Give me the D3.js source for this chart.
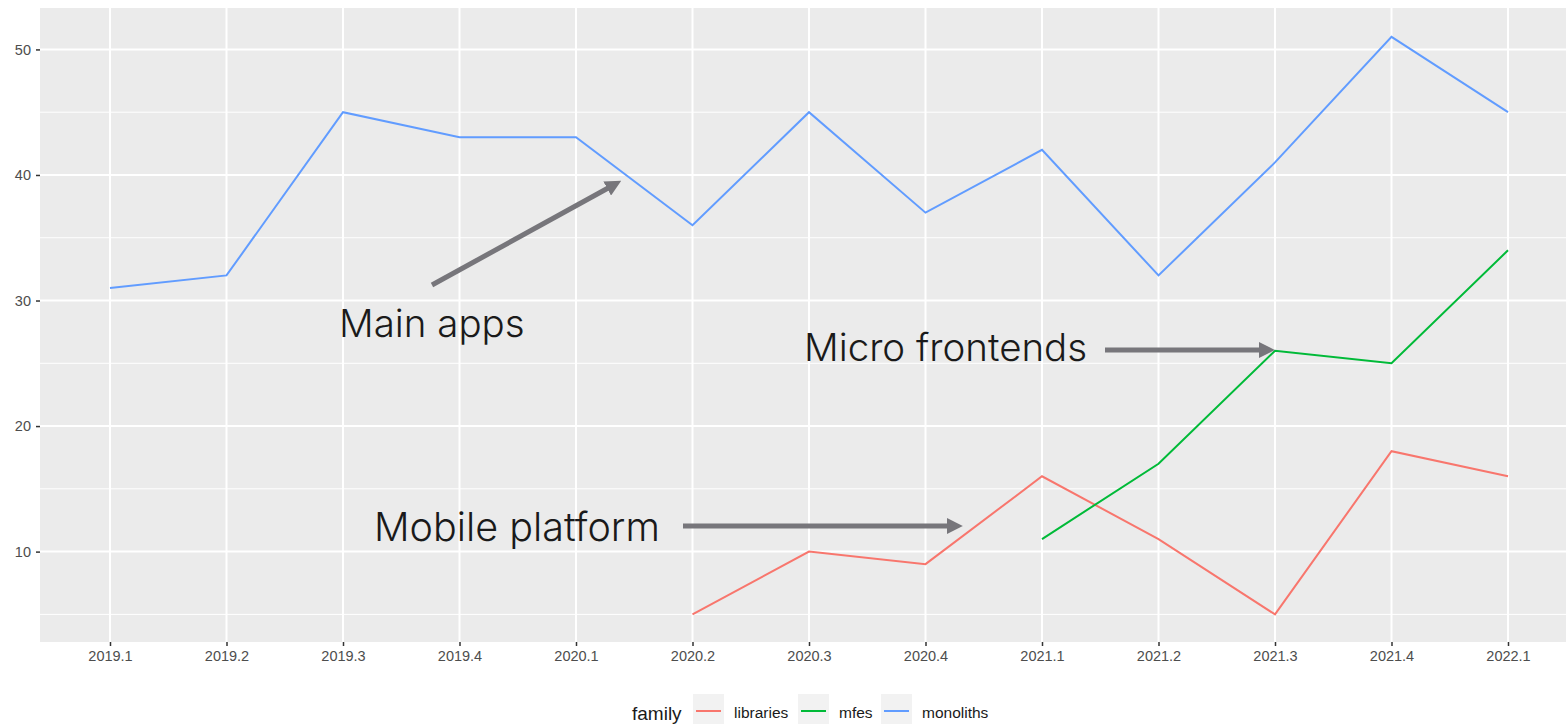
<!DOCTYPE html>
<html>
<head>
<meta charset="utf-8">
<script src="https://cdn.jsdelivr.net/npm/d3@7"></script>
<style>
  body { margin: 0; background: #fff; }
  svg { display: block; }
  text { font-family: "Liberation Sans", Arial, sans-serif; }
</style>
</head>
<body>
<div id="chart"></div>
<script>
// quarters on the x axis
var quarters = ["2019.1","2019.2","2019.3","2019.4","2020.1","2020.2","2020.3",
                "2020.4","2021.1","2021.2","2021.3","2021.4","2022.1"];

var monoliths = [31, 32, 45, 43, 43, 36, 45, 37, 42, 32, 41, 51, 45];
var libraries = [null, null, null, null, null, 5, 10, 9, 16, 11, 5, 18, 16];
var mfes      = [null, null, null, null, null, null, null, null, 11, 17, 26, 25, 34];

var yTicks = [10, 20, 30, 40, 50];
var yMinor = [5, 15, 25, 35, 45];

var seriesNames  = ["libraries", "mfes", "monoliths"];
var seriesColors = ["#F8766D", "#00BA38", "#619CFF"];

function init() {
    var w = 1566, h = 724;
    var left = 40, top = 8, right = 1566, bottom = 642;

    var svg = d3.select("#chart").append("svg")
        .attr("width", w).attr("height", h);

    var x = d3.scalePoint()
        .domain(quarters)
        .range([110, 1508]);

    var y = d3.scaleLinear()
        .domain([2.8, 53.3])
        .range([bottom, top]);

    // panel
    svg.append("rect")
        .attr("x", left).attr("y", top)
        .attr("width", right - left).attr("height", bottom - top)
        .attr("fill", "#EBEBEB");

    // minor grid
    svg.selectAll(".ymin").data(yMinor).enter().append("line")
        .attr("x1", left).attr("x2", right)
        .attr("y1", d => y(d)).attr("y2", d => y(d))
        .attr("stroke", "#fff").attr("stroke-width", 1);

    // major grid
    svg.selectAll(".ymaj").data(yTicks).enter().append("line")
        .attr("x1", left).attr("x2", right)
        .attr("y1", d => y(d)).attr("y2", d => y(d))
        .attr("stroke", "#fff").attr("stroke-width", 2);

    svg.selectAll(".xmaj").data(quarters).enter().append("line")
        .attr("x1", d => x(d)).attr("x2", d => x(d))
        .attr("y1", top).attr("y2", bottom)
        .attr("stroke", "#fff").attr("stroke-width", 2);

    // axes
    var xAxis = d3.axisBottom(x).tickSize(4).tickPadding(5);
    var yAxis = d3.axisLeft(y).tickValues(yTicks).tickSize(4).tickPadding(5);

    var gx = svg.append("g")
        .attr("transform", "translate(0," + bottom + ")")
        .call(xAxis);
    var gy = svg.append("g")
        .attr("transform", "translate(" + left + ",0)")
        .call(yAxis);

    [gx, gy].forEach(function(g) {
        g.select(".domain").remove();
        g.selectAll(".tick line").attr("stroke", "#333").attr("stroke-width", 1.5);
        g.selectAll(".tick text")
            .attr("fill", "#4D4D4D")
            .style("font-size", "14.5px")
            .style("font-family", "Liberation Sans, Arial, sans-serif");
    });

    // lines
    var line = d3.line()
        .defined(d => d != null)
        .x((d, i) => x(quarters[i]))
        .y(d => y(d));

    [libraries, mfes, monoliths].forEach(function(s, k) {
        svg.append("path")
            .datum(s)
            .attr("d", line)
            .attr("fill", "none")
            .attr("stroke", seriesColors[k])
            .attr("stroke-width", 2);
    });

    // arrows
    var defs = svg.append("defs");
    defs.append("marker")
        .attr("id", "head")
        .attr("viewBox", "0 0 10 10")
        .attr("refX", 2).attr("refY", 5)
        .attr("markerWidth", 3.2).attr("markerHeight", 3.2)
        .attr("orient", "auto")
        .attr("markerUnits", "strokeWidth")
        .append("path")
        .attr("d", "M0,0 L10,5 L0,10 Z")
        .attr("fill", "#77767B");

    var arrows = [
        [432, 285, 610, 187],
        [1105, 350, 1262, 350],
        [683, 526, 950, 526]
    ];
    svg.selectAll(".arrow").data(arrows).enter().append("line")
        .attr("x1", d => d[0]).attr("y1", d => d[1])
        .attr("x2", d => d[2]).attr("y2", d => d[3])
        .attr("stroke", "#77767B").attr("stroke-width", 5)
        .attr("marker-end", "url(#head)");

    var notes = [
        ["Main apps", 339, 337, 38.5],
        ["Micro frontends", 804, 361, 38.5],
        ["Mobile platform", 374, 541, 39.5]
    ];
    svg.selectAll(".note").data(notes).enter().append("text")
        .attr("x", d => d[1]).attr("y", d => d[2])
        .text(d => d[0])
        .attr("fill", "#1a1a1a")
        .style("font-family", "Inter, sans-serif")
        .style("font-weight", 300)
        .style("font-size", d => d[3] + "px");

    // legend
    var lg = svg.append("g");
    lg.append("text")
        .attr("x", 632).attr("y", 720)
        .text("family")
        .attr("fill", "#1a1a1a")
        .style("font-size", "19px");

    var keyX = [693, 798, 881];
    seriesNames.forEach(function(n, i) {
        lg.append("rect")
            .attr("x", keyX[i]).attr("y", 694)
            .attr("width", 31).attr("height", 30)
            .attr("fill", "#F2F2F2");
        lg.append("line")
            .attr("x1", keyX[i] + 3).attr("x2", keyX[i] + 28)
            .attr("y1", 711).attr("y2", 711)
            .attr("stroke", seriesColors[i]).attr("stroke-width", 2);
        lg.append("text")
            .attr("x", keyX[i] + 41).attr("y", 718)
            .text(n)
            .attr("fill", "#1a1a1a")
            .style("font-size", "15.5px");
    });
}

window.onload = init;
</script>
</body>
</html>
